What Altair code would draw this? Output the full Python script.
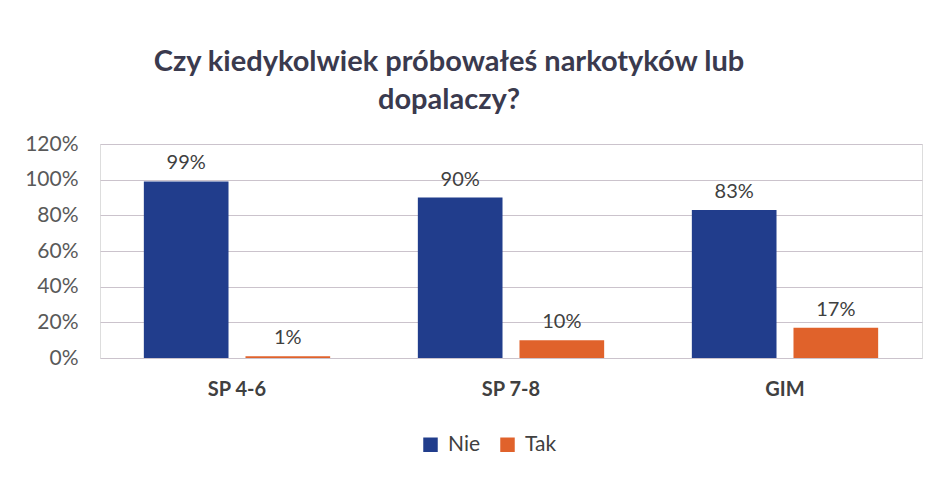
import altair as alt
import pandas as pd

categories = ["SP 4-6", "SP 7-8", "GIM"]
series = ["Nie", "Tak"]
nie = [0.99, 0.90, 0.83]
tak = [0.01, 0.10, 0.17]
y_ticks = [0, 0.2, 0.4, 0.6, 0.8, 1.0, 1.2]
colors = ["#213d8c", "#e0622b"]

rows = []
for i, c in enumerate(categories):
    rows.append({"grupa": c, "odp": "Nie", "val": nie[i]})
    rows.append({"grupa": c, "odp": "Tak", "val": tak[i]})
df = pd.DataFrame(rows)

FONT = "Lato"

base = alt.Chart(df).encode(
    x=alt.X(
        "grupa:N",
        sort=categories,
        scale=alt.Scale(paddingInner=0.32, paddingOuter=0.16),
        axis=alt.Axis(
            title=None, labelAngle=0, ticks=False, domain=False,
            labelFont=FONT, labelFontSize=20, labelFontWeight="bold",
            labelColor="#404040", labelPadding=21,
        ),
    ),
    xOffset=alt.XOffset(
        "odp:N", sort=series,
        scale=alt.Scale(paddingInner=0.167, paddingOuter=0),
    ),
    y=alt.Y(
        "val:Q",
        scale=alt.Scale(domain=[0, 1.2]),
        axis=alt.Axis(
            title=None, values=y_ticks, format=".0%", ticks=False, domain=False,
            labelFont=FONT, labelFontSize=21, labelColor="#595959",
            labelPadding=22, gridColor="#cbc3cc", gridWidth=1,
        ),
    ),
)

bars = base.mark_bar().encode(
    color=alt.Color(
        "odp:N",
        sort=series,
        scale=alt.Scale(domain=series, range=colors),
        legend=alt.Legend(
            title=None, orient="none", direction="horizontal",
            legendX=320, legendY=290,
            symbolType="square", symbolSize=210, symbolStrokeWidth=0,
            labelFont=FONT, labelFontSize=21, labelColor="#404040",
            labelOffset=7, columnPadding=16,
        ),
    )
)

labels = base.mark_text(
    baseline="bottom", dy=-8, font=FONT, fontSize=20, color="#404040"
).encode(text=alt.Text("val:Q", format=".0%"))

chart = (bars + labels).properties(
    width=822,
    height=214,
    title=alt.TitleParams(
        text=["Czy kiedykolwiek próbowałeś narkotyków lub", "dopalaczy?"],
        font=FONT, fontSize=29, fontWeight="bold", color="#3a3a4e",
        lineHeight=38, anchor="middle", dx=-62, offset=18,
    ),
    autosize=alt.AutoSizeParams(type="none"),
    padding={"left": 92, "top": 136, "right": 10, "bottom": 113},
).configure_view(stroke=None).configure(background="white")

chart.save("out.html", embed_options={"renderer": "svg", "actions": False})
